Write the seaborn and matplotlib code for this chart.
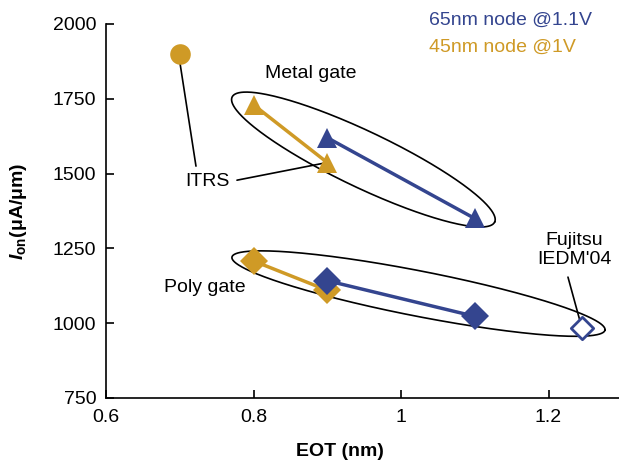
import numpy as np
import pandas as pd
import matplotlib
matplotlib.use("Agg")
import matplotlib.pyplot as plt
import seaborn as sns

# ---------------- data ----------------
gold = "#CF9A26"
blue = "#34458F"

itrs_x = [0.70]
itrs_y = [1900]

metal45_x = [0.80, 0.90]
metal45_y = [1730, 1537]
metal65_x = [0.90, 1.10]
metal65_y = [1620, 1350]

poly45_x = [0.80, 0.90]
poly45_y = [1208, 1110]
poly65_x = [0.90, 1.10]
poly65_y = [1142, 1023]

fujitsu_x = [1.245]
fujitsu_y = [983]

x_ticks = [0.6, 0.8, 1.0, 1.2]
x_tick_labels = ["0.6", "0.8", "1", "1.2"]
y_ticks = [750, 1000, 1250, 1500, 1750, 2000]

# ellipses: center, semi-axis vectors (data units)
metal_ell = dict(c=(0.949, 1547), u=(0.178, -209), v=(0.0163, 84.6))
poly_ell = dict(c=(1.0237, 1099), u=(0.2529, -122), v=(0.0059, 74.2))

sns.set_theme(style="white")
FONT = 'Liberation Sans'
plt.rcParams['font.family'] = [FONT, 'DejaVu Sans']
plt.rcParams['text.color'] = 'black'
plt.rcParams['axes.labelcolor'] = 'black'
plt.rcParams['mathtext.fontset'] = 'custom'
plt.rcParams['mathtext.rm'] = FONT + ':bold'
plt.rcParams['mathtext.bf'] = FONT + ':bold'
plt.rcParams['mathtext.it'] = FONT + ':italic:bold'

fig = plt.figure(figsize=(6.19, 4.65), dpi=100)
ax = fig.add_axes([106/619, 1-398/465, 1-106/619, (398-24)/465])

FS = 14

# ellipses
t = np.linspace(0, 2*np.pi, 400)
for e in (metal_ell, poly_ell):
    ex = e['c'][0] + e['u'][0]*np.cos(t) + e['v'][0]*np.sin(t)
    ey = e['c'][1] + e['u'][1]*np.cos(t) + e['v'][1]*np.sin(t)
    ax.plot(ex, ey, color="black", lw=1.2, zorder=1)

# annotation leader lines
ax.plot([0.7003, 0.722], [1870, 1525], color="black", lw=1.2, zorder=1)
ax.plot([0.7776, 0.8956], [1478, 1535], color="black", lw=1.2, zorder=1)
ax.plot([1.2264, 1.2454], [1154, 983], color="black", lw=1.2, zorder=4)

def series(xs, ys, color, marker, ms):
    df = pd.DataFrame({"x": xs, "y": ys})
    sns.lineplot(data=df, x="x", y="y", ax=ax, color=color, lw=2.5,
                 marker=marker, markersize=ms, markeredgewidth=0,
                 sort=False, estimator=None, zorder=3)

series(metal45_x, metal45_y, gold, "^", 15)
series(metal65_x, metal65_y, blue, "^", 15)
series(poly45_x, poly45_y, gold, "D", 14)
series(poly65_x, poly65_y, blue, "D", 14)

sns.scatterplot(x=itrs_x, y=itrs_y, ax=ax, color=gold, s=220, linewidth=0, zorder=3)
sns.scatterplot(x=fujitsu_x, y=fujitsu_y, ax=ax, marker="D", s=130,
                facecolor="white", edgecolor=blue, linewidth=2, zorder=5)

# texts
ax.text(0.878, 1836, "Metal gate", fontsize=FS, ha="center", va="center")
ax.text(0.737, 1472, "ITRS", fontsize=FS, ha="center", va="center")
ax.text(0.7336, 1120, "Poly gate", fontsize=FS, ha="center", va="center")
ax.text(1.2346, 1244, "Fujitsu\nIEDM'04", fontsize=FS, ha="center", va="center",
        linespacing=1.15)
ax.text(1.038, 2013, "65nm node @1.1V", fontsize=FS, color=blue, ha="left",
        va="center", clip_on=False)
ax.text(1.038, 1923, "45nm node @1V", fontsize=FS, color=gold, ha="left",
        va="center", clip_on=False)

ax.set_xlim(0.6, 0.6 + 513/737.5)
ax.set_ylim(750, 2000)
ax.set_xticks(x_ticks)
ax.set_xticklabels(x_tick_labels)
ax.set_yticks(y_ticks)
ax.tick_params(direction="in", length=6, width=1.2, labelsize=FS,
               bottom=True, left=True, colors="black")
ax.tick_params(axis="x", pad=8)
ax.tick_params(axis="y", pad=7)
for s in ("top", "right"):
    ax.spines[s].set_visible(False)
for s in ("left", "bottom"):
    ax.spines[s].set_color("black")
    ax.spines[s].set_linewidth(1.2)

ax.set_xlabel("EOT (nm)", fontsize=FS, fontweight="bold")
ax.set_ylabel(r"$\mathit{I}_{\mathrm{on}}$(μA/μm)", fontsize=FS, fontweight="bold")
ax.xaxis.set_label_coords(0.456, -0.12)
ax.yaxis.set_label_coords(-0.15, 0.5)

fig.savefig("out.png", dpi=100)
